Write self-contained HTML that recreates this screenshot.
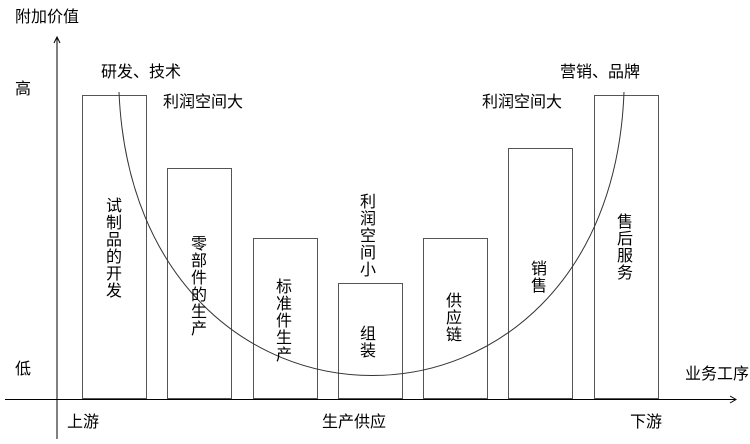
<!DOCTYPE html>
<html><head><meta charset="utf-8"><style>
body{margin:0;background:#fff;}
svg text{font-family:"Liberation Sans","Noto Sans CJK SC",sans-serif;font-size:16px;fill:#000;}
</style></head><body>
<svg width="750" height="439" viewBox="0 0 750 439" xmlns="http://www.w3.org/2000/svg">
<g fill="none" stroke="#000" stroke-width="1">
<line x1="57" y1="38" x2="57" y2="439"/>
<polyline points="54,43 57,37 60,43"/>
<line x1="5" y1="399.5" x2="735" y2="399.5"/>
<polyline points="730,396 736,399.5 730,403"/>
</g>
<g fill="#fff" stroke="#555" stroke-width="1">
<rect x="82.5" y="95.5" width="64" height="303"/>
<rect x="167.5" y="168.5" width="64" height="230"/>
<rect x="253.5" y="238.5" width="64" height="160"/>
<rect x="338.5" y="283.5" width="64" height="115"/>
<rect x="423.5" y="238.5" width="64" height="160"/>
<rect x="508.5" y="148.5" width="64" height="250"/>
<rect x="594.5" y="95.5" width="64" height="303"/>
</g>
<path d="M119,92 C135,470 610,470 624,92" fill="none" stroke="#333" stroke-width="1"/>
<text x="15" y="22">附加价值</text>
<text x="15" y="94">高</text>
<text x="15" y="374">低</text>
<text x="101" y="77">研发、技术</text>
<text x="163" y="107">利润空间大</text>
<text x="482" y="107">利润空间大</text>
<text x="560" y="77">营销、品牌</text>
<text x="685" y="379">业务工序</text>
<text x="67" y="427">上游</text>
<text x="322" y="427">生产供应</text>
<text x="630" y="427">下游</text>
<g text-anchor="middle">
<text x="114" y="211">试</text><text x="114" y="228">制</text><text x="114" y="245">品</text><text x="114" y="262">的</text><text x="114" y="279">开</text><text x="114" y="296">发</text>
<text x="199" y="249">零</text><text x="199" y="266">部</text><text x="199" y="283">件</text><text x="199" y="300">的</text><text x="199" y="317">生</text><text x="199" y="334">产</text>
<text x="284" y="292">标</text><text x="284" y="309">准</text><text x="284" y="326">件</text><text x="284" y="343">生</text><text x="284" y="360">产</text>
<text x="368" y="207">利</text><text x="368" y="224">润</text><text x="368" y="241">空</text><text x="368" y="258">间</text><text x="368" y="275">小</text>
<text x="368" y="339">组</text><text x="368" y="356">装</text>
<text x="454" y="306">供</text><text x="454" y="323">应</text><text x="454" y="340">链</text>
<text x="539" y="274">销</text><text x="539" y="291">售</text>
<text x="625" y="227">售</text><text x="625" y="244">后</text><text x="625" y="261">服</text><text x="625" y="278">务</text>
</g>
</svg>
</body></html>
